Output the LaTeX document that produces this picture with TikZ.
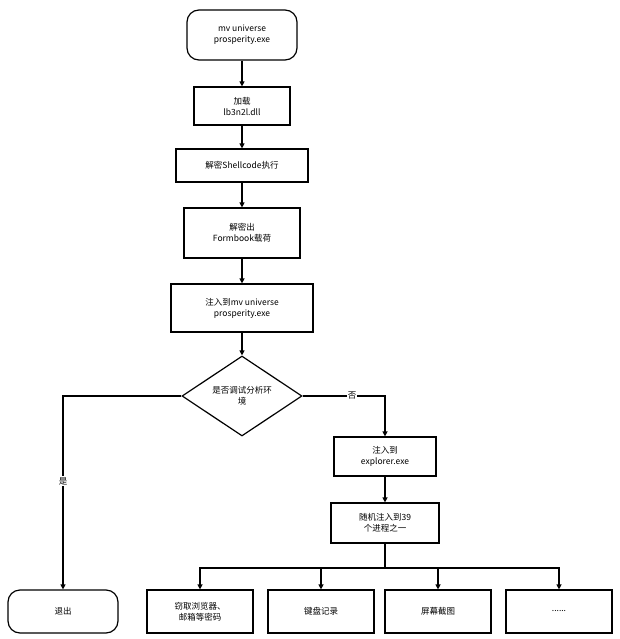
\documentclass[tikz,border=0pt]{standalone}
\usepackage{fontspec}
\setmainfont{Noto Sans CJK SC}
\usetikzlibrary{positioning,shapes.geometric,arrows.meta}

\tikzset{
    box/.style={draw=black, line width=1.2pt, fill=white, align=center, font=\fontsize{8.5}{11}\selectfont, inner sep=0pt},
    term/.style={box, rounded corners=12pt},
    dec/.style={draw=black, line width=1.2pt, fill=white, diamond, aspect=1.5, align=center, font=\fontsize{8.5}{11}\selectfont, inner sep=0pt, minimum width=120pt, minimum height=80pt},
    arr/.style={line width=1.2pt, -{Triangle[length=5pt,width=5pt]}},
    lbl/.style={font=\fontsize{8.5}{11}\selectfont, fill=white, inner sep=1pt}
}

\begin{document}
\begin{tikzpicture}[x=1pt,y=-1pt]
    \useasboundingbox (0,0) rectangle (619,639);
    % main chain
    \node[term, minimum width=110pt, minimum height=50pt] (start) at (242,35) {mv universe\\prosperity.exe};
    \node[box, minimum width=96pt, minimum height=38pt] (load) at (242,106) {加载\\lb3n2l.dll};
    \node[box, minimum width=132pt, minimum height=33pt] (dec1) at (242,165.5) {解密Shellcode执行};
    \node[box, minimum width=116pt, minimum height=50pt] (dec2) at (242,233) {解密出\\Formbook载荷};
    \node[box, minimum width=142pt, minimum height=48pt] (inj1) at (242,308) {注入到mv universe\\prosperity.exe};
    \node[dec] (check) at (242,396) {是否调试分析环\\境};
    % right branch
    \node[box, minimum width=102pt, minimum height=39pt] (inj2) at (385,456.5) {注入到\\explorer.exe};
    \node[box, minimum width=108pt, minimum height=40pt] (inj3) at (385,523) {随机注入到39\\个进程之一};
    % bottom row
    \node[term, minimum width=110pt, minimum height=43pt] (quit) at (63,611.5) {退出};
    \node[box, minimum width=106pt, minimum height=43pt] (steal) at (200,611.5) {窃取浏览器、\\邮箱等密码};
    \node[box, minimum width=106pt, minimum height=43pt] (keys) at (321,611.5) {键盘记录};
    \node[box, minimum width=106pt, minimum height=43pt] (shot) at (438,611.5) {屏幕截图};
    \node[box, minimum width=106pt, minimum height=43pt] (more) at (559,611.5) {......};
    \coordinate (split) at (385,568);

    \draw[arr] (start) -- (load);
    \draw[arr] (load) -- (dec1);
    \draw[arr] (dec1) -- (dec2);
    \draw[arr] (dec2) -- (inj1);
    \draw[arr] (inj1) -- (check);
    \draw[arr] (check.west) -| node[lbl, pos=0.72]{是} (quit.north);
    \draw[arr] (check.east) -| node[lbl, pos=0.3]{否} (inj2.north);
    \draw[arr] (inj2) -- (inj3);
    \draw[line width=1.2pt] (inj3) -- (split);
    \draw[arr] (split) -| (steal.north);
    \draw[arr] (split) -| (keys.north);
    \draw[arr] (split) -| (shot.north);
    \draw[arr] (split) -| (more.north);
\end{tikzpicture}
\end{document}
